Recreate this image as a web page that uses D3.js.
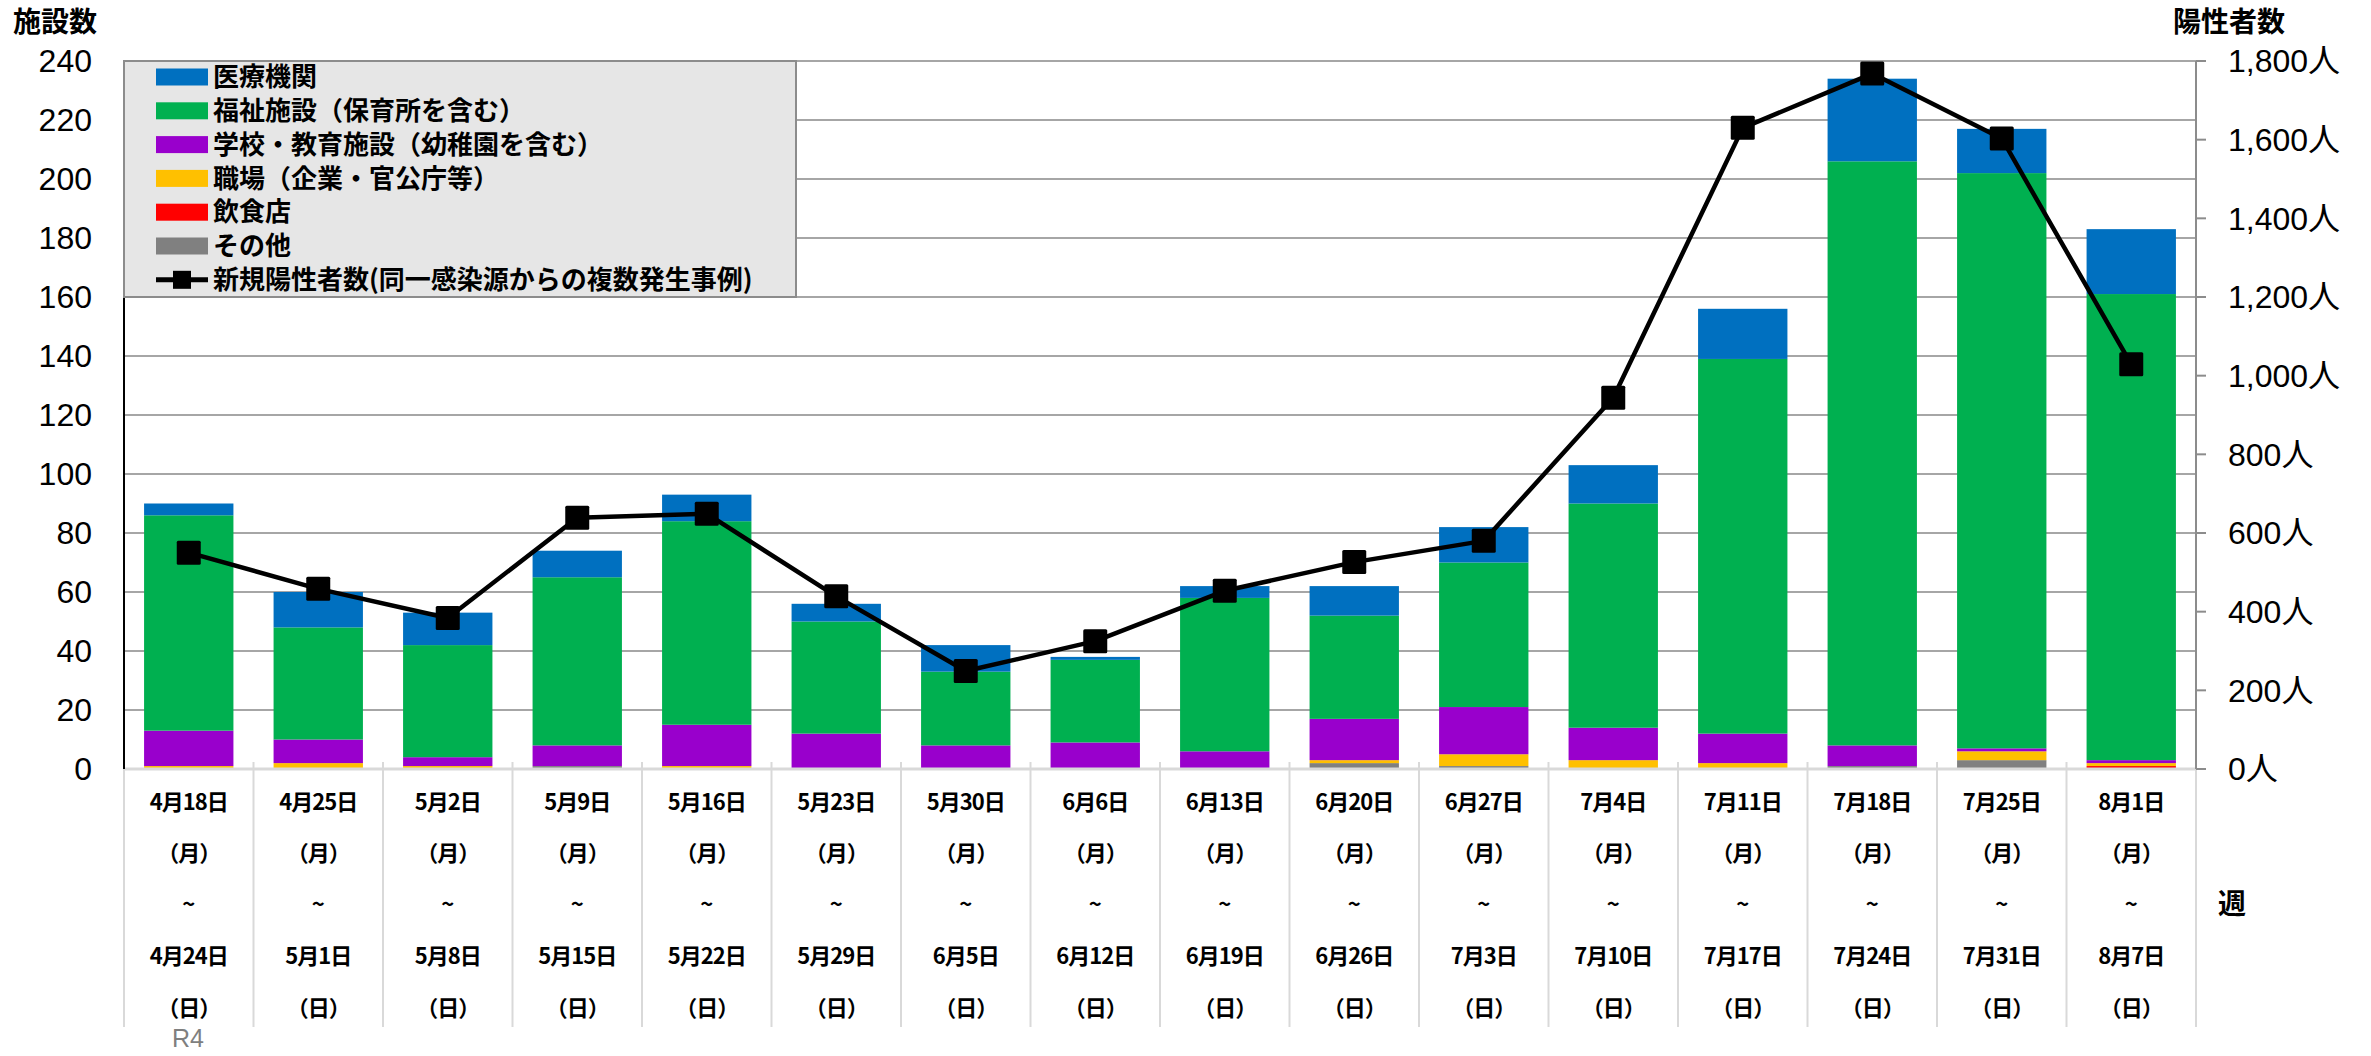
<!DOCTYPE html>
<html>
<head>
<meta charset="utf-8">
<script src="https://cdn.jsdelivr.net/npm/d3@7"></script>
<style>
    body { margin: 0; background: #ffffff; }
    svg { display: block; }
</style>
</head>
<body>
<div id="chart"></div>
<script>
"use strict";



//
// Data
//

var weekStart = ["4月18日", "4月25日", "5月2日", "5月9日", "5月16日", "5月23日", "5月30日", "6月6日",
    "6月13日", "6月20日", "6月27日", "7月4日", "7月11日", "7月18日", "7月25日", "8月1日"];

var weekEnd = ["4月24日", "5月1日", "5月8日", "5月15日", "5月22日", "5月29日", "6月5日", "6月12日",
    "6月19日", "6月26日", "7月3日", "7月10日", "7月17日", "7月24日", "7月31日", "8月7日"];

var medical    = [4, 12, 11, 9, 9, 6, 9, 1, 4, 10, 12, 13, 17, 28, 15, 22];
var welfare    = [73, 38, 38, 57, 69, 38, 25, 28, 52, 35, 49, 76, 127, 198, 195, 158];
var school     = [12, 8, 3, 7, 14, 12, 8, 9, 6, 14, 16, 11, 10, 7, 1, 1];
var workplace  = [1, 2, 1, 0, 1, 0, 0, 0, 0, 1, 4, 3, 2, 0, 3, 1];
var restaurant = [0, 0, 0, 0, 0, 0, 0, 0, 0, 0, 0, 0, 0, 0, 0, 1];
var other      = [0, 0, 0, 1, 0, 0, 0, 0, 0, 2, 1, 0, 0, 1, 3, 0];

var positives  = [550, 458, 384, 639, 649, 439, 249, 325, 453, 526, 580, 944, 1630, 1768, 1603, 1029];

var leftTicks  = [0, 20, 40, 60, 80, 100, 120, 140, 160, 180, 200, 220, 240];
var rightTicks = [0, 200, 400, 600, 800, 1000, 1200, 1400, 1600, 1800];

var seriesKeys   = ["other", "restaurant", "workplace", "school", "welfare", "medical"];
var seriesNames  = {
    medical: "医療機関",
    welfare: "福祉施設（保育所を含む）",
    school: "学校・教育施設（幼稚園を含む）",
    workplace: "職場（企業・官公庁等）",
    restaurant: "飲食店",
    other: "その他"
};
var seriesColors = {
    medical: "#0070C0",
    welfare: "#00B050",
    school: "#9900CC",
    workplace: "#FFC000",
    restaurant: "#FF0000",
    other: "#808080"
};
var lineName = "新規陽性者数(同一感染源からの複数発生事例)";



//
// Layout
//

var chart = {
    width: 2371,
    height: 1056,
    left: 124,
    right: 2196,
    top: 61,
    bottom: 769,
    numFont: "'Liberation Sans', Arial, 'Noto Sans CJK JP', sans-serif",
    jpFont: "'Noto Sans CJK JP', 'Noto Sans', sans-serif"
};

chart.build = function () {

    var svg = d3.select("#chart").append("svg")
        .attr("width", chart.width)
        .attr("height", chart.height);

    var table = weekStart.map(function (w, i) {
        return {
            idx: i,
            medical: medical[i],
            welfare: welfare[i],
            school: school[i],
            workplace: workplace[i],
            restaurant: restaurant[i],
            other: other[i],
            positives: positives[i]
        };
    });

    var x = d3.scaleBand()
        .domain(d3.range(weekStart.length))
        .range([chart.left, chart.right])
        .paddingInner(0.31)
        .paddingOuter(0.155);

    var y = d3.scaleLinear().domain([0, 240]).range([chart.bottom, chart.top]);
    var y2 = d3.scaleLinear().domain([0, 1800]).range([chart.bottom, chart.top]);

    var step = x.step();


    //
    // Gridlines
    //

    svg.append("g").selectAll("line")
        .data(leftTicks.filter(function (d) { return d > 0; }))
        .enter().append("line")
        .attr("x1", chart.left).attr("x2", chart.right)
        .attr("y1", function (d) { return y(d); })
        .attr("y2", function (d) { return y(d); })
        .style("stroke", "#a6a6a6")
        .style("stroke-width", 2);


    //
    // Stacked bars
    //

    var stacked = d3.stack().keys(seriesKeys)(table);

    svg.append("g").selectAll("g")
        .data(stacked)
        .enter().append("g")
        .style("fill", function (d) { return seriesColors[d.key]; })
        .selectAll("rect")
        .data(function (d) { return d; })
        .enter().append("rect")
        .attr("x", function (d) { return x(d.data.idx); })
        .attr("width", x.bandwidth())
        .attr("y", function (d) { return y(d[1]); })
        .attr("height", function (d) { return y(d[0]) - y(d[1]); });


    //
    // Category axis (zero line, separators, labels)
    //

    svg.append("line")
        .attr("x1", chart.left).attr("x2", chart.right)
        .attr("y1", chart.bottom).attr("y2", chart.bottom)
        .style("stroke", "#d9d9d9")
        .style("stroke-width", 3);

    svg.append("g").selectAll("line")
        .data(d3.range(weekStart.length + 1))
        .enter().append("line")
        .attr("x1", function (d) { return chart.left + d * step; })
        .attr("x2", function (d) { return chart.left + d * step; })
        .attr("y1", chart.bottom - 7)
        .attr("y2", 1027)
        .style("stroke", "#d9d9d9")
        .style("stroke-width", 2);

    var rowY = [802, 853, 904, 956, 1008];

    var labels = svg.append("g")
        .style("font-family", chart.jpFont)
        .style("font-weight", "bold")
        .style("font-size", "22px")
        .attr("text-anchor", "middle");

    table.forEach(function (d) {
        var cx = x(d.idx) + x.bandwidth() / 2;
        var rows = [weekStart[d.idx], "（月）", "~", weekEnd[d.idx], "（日）"];
        rows.forEach(function (t, r) {
            labels.append("text")
                .attr("x", cx)
                .attr("y", rowY[r])
                .attr("dy", "0.35em")
                .style("letter-spacing", t.length > 1 ? "-1px" : "0px")
                .text(t);
        });
    });

    svg.append("text")
        .attr("x", 188).attr("y", 1038).attr("dy", "0.35em")
        .attr("text-anchor", "middle")
        .style("font-family", chart.numFont)
        .style("font-size", "25px")
        .style("fill", "#7f7f7f")
        .text("R4");

    svg.append("text")
        .attr("x", 2218).attr("y", 904).attr("dy", "0.35em")
        .style("font-family", chart.jpFont)
        .style("font-weight", "bold")
        .style("font-size", "28px")
        .text("週");


    //
    // Left axis
    //

    svg.append("line")
        .attr("x1", chart.left).attr("x2", chart.left)
        .attr("y1", chart.top).attr("y2", chart.bottom)
        .style("stroke", "#000000")
        .style("stroke-width", 2);

    svg.append("g").selectAll("text")
        .data(leftTicks)
        .enter().append("text")
        .attr("x", 92)
        .attr("y", function (d) { return y(d); })
        .attr("dy", "0.35em")
        .attr("text-anchor", "end")
        .style("font-family", chart.numFont)
        .style("font-size", "32px")
        .text(function (d) { return d; });

    svg.append("text")
        .attr("x", 13).attr("y", 22).attr("dy", "0.35em")
        .style("font-family", chart.jpFont)
        .style("font-weight", "bold")
        .style("font-size", "28px")
        .text("施設数");


    //
    // Right axis
    //

    svg.append("line")
        .attr("x1", chart.right).attr("x2", chart.right)
        .attr("y1", chart.top).attr("y2", chart.bottom)
        .style("stroke", "#8c8c8c")
        .style("stroke-width", 2);

    var rightAxis = svg.append("g");

    rightAxis.selectAll("line")
        .data(rightTicks)
        .enter().append("line")
        .attr("x1", chart.right).attr("x2", chart.right + 10)
        .attr("y1", function (d) { return y2(d); })
        .attr("y2", function (d) { return y2(d); })
        .style("stroke", "#8c8c8c")
        .style("stroke-width", 2);

    rightAxis.selectAll("text")
        .data(rightTicks)
        .enter().append("text")
        .attr("x", 2228)
        .attr("y", function (d) { return y2(d); })
        .attr("dy", "0.35em")
        .style("font-family", chart.numFont)
        .style("font-size", "32px")
        .text(function (d) { return d3.format(",")(d) + "人"; });

    svg.append("text")
        .attr("x", 2173).attr("y", 22).attr("dy", "0.35em")
        .style("font-family", chart.jpFont)
        .style("font-weight", "bold")
        .style("font-size", "28px")
        .text("陽性者数");


    //
    // Legend
    //

    var legend = svg.append("g");

    legend.append("rect")
        .attr("x", chart.left).attr("y", chart.top)
        .attr("width", 672).attr("height", 236)
        .style("fill", "#e6e6e6")
        .style("stroke", "#8c8c8c")
        .style("stroke-width", 2);

    var legendKeys = seriesKeys.slice().reverse();

    legendKeys.forEach(function (k, i) {
        var cy = 77 + i * 33.8;
        legend.append("rect")
            .attr("x", 156).attr("y", cy - 8.5)
            .attr("width", 52).attr("height", 17)
            .style("fill", seriesColors[k]);
        legend.append("text")
            .attr("x", 213).attr("y", cy).attr("dy", "0.35em")
            .style("font-family", chart.jpFont)
            .style("font-weight", "bold")
            .style("font-size", "26px")
            .text(seriesNames[k]);
    });

    var lcy = 77 + 6 * 33.8;
    legend.append("line")
        .attr("x1", 156).attr("x2", 208)
        .attr("y1", lcy).attr("y2", lcy)
        .style("stroke", "#000000")
        .style("stroke-width", 5);
    legend.append("rect")
        .attr("x", 173).attr("y", lcy - 9)
        .attr("width", 18).attr("height", 18)
        .style("fill", "#000000");
    legend.append("text")
        .attr("x", 213).attr("y", lcy).attr("dy", "0.35em")
        .style("font-family", chart.jpFont)
        .style("font-weight", "bold")
        .style("font-size", "26px")
        .text(lineName);


    //
    // Positives line with square markers
    //

    var line = d3.line()
        .x(function (d) { return x(d.idx) + x.bandwidth() / 2; })
        .y(function (d) { return y2(d.positives); });

    svg.append("path")
        .datum(table)
        .attr("d", line)
        .style("fill", "none")
        .style("stroke", "#000000")
        .style("stroke-width", 4.5)
        .style("stroke-linejoin", "round");

    svg.append("g").selectAll("rect")
        .data(table)
        .enter().append("rect")
        .attr("x", function (d) { return x(d.idx) + x.bandwidth() / 2 - 12; })
        .attr("y", function (d) { return y2(d.positives) - 12; })
        .attr("width", 24).attr("height", 24)
        .attr("rx", 1.5)
        .style("fill", "#000000");
};

chart.build();
</script>
</body>
</html>
